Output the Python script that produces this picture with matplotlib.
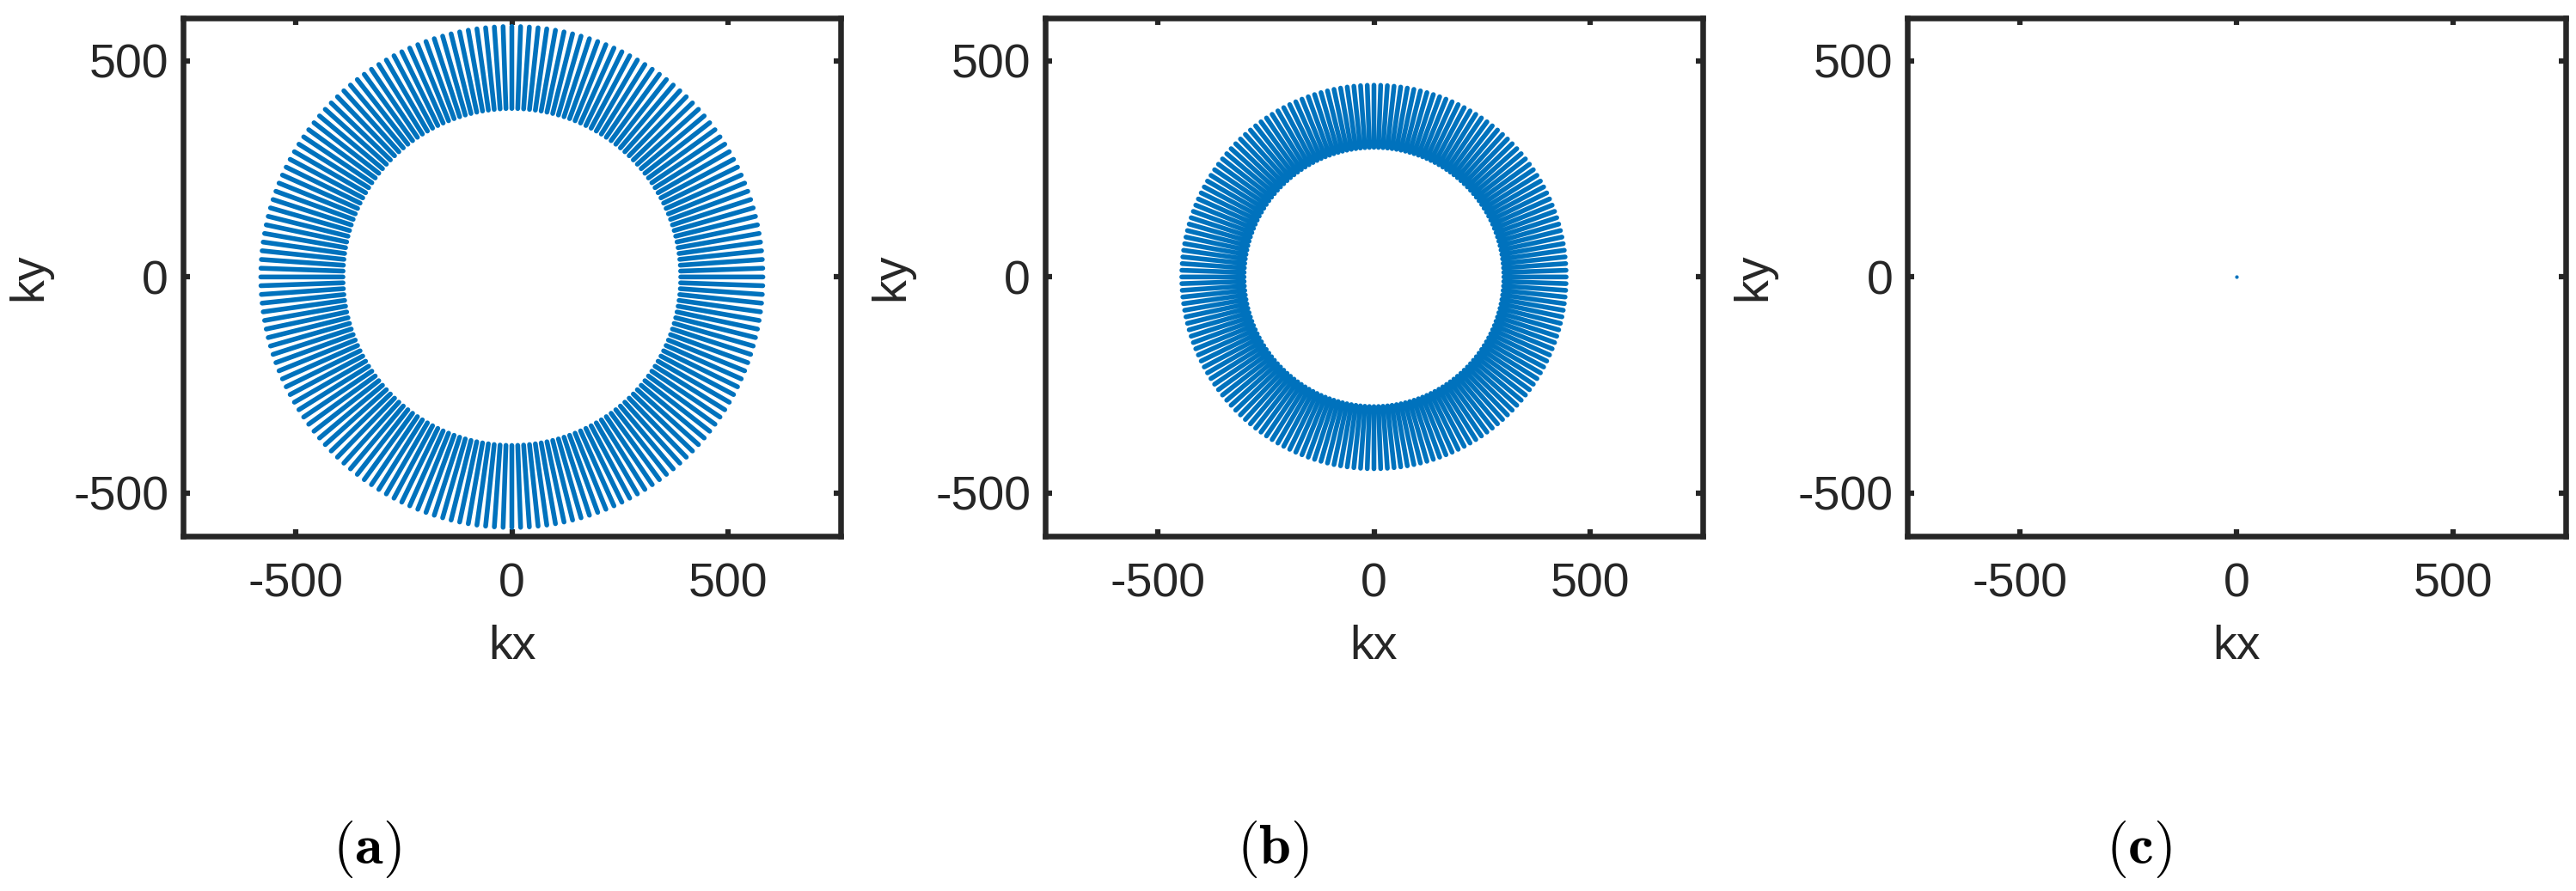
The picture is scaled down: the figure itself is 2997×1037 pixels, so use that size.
import numpy as np
import matplotlib
matplotlib.use("Agg")
import matplotlib.pyplot as plt

# k-space radial trajectories, one panel each
panel_labels = ["a", "b", "c"]
n_spokes = [180, 180, 1]
r_inner = [390, 300, 0]
r_outer = [580, 444, 0]
spoke_start_deg = [0.0, 0.0, 0.0]

x_ticks = [-500, 0, 500]
y_ticks = [-500, 0, 500]
x_lim = (-760, 760)
y_lim = (-600, 600)

caption_x = [427, 1481, 2488]   # pixel centre of the (a)/(b)/(c) captions
axes_left_px = [212.7, 1215.7, 2219.0]

W, H = 2997, 1037
plt.rcParams["font.family"] = ["Liberation Sans", "DejaVu Sans"]
plt.rcParams["mathtext.fontset"] = "cm"

fig = plt.figure(figsize=(W / 100, H / 100), dpi=100)
blue = "#0072BD"
ink = "#262626"

ax_w, ax_h = 765.6, 603.3
ax_bottom = 624.0

for i in range(3):
    ax = fig.add_axes([axes_left_px[i] / W, (H - ax_bottom) / H, ax_w / W, ax_h / H])

    if n_spokes[i] > 1:
        step = 360.0 / n_spokes[i]
        theta = np.deg2rad(spoke_start_deg[i] + step * np.arange(n_spokes[i]))
        xs = np.column_stack([r_inner[i] * np.cos(theta), r_outer[i] * np.cos(theta),
                              np.full(n_spokes[i], np.nan)]).ravel()
        ys = np.column_stack([r_inner[i] * np.sin(theta), r_outer[i] * np.sin(theta),
                              np.full(n_spokes[i], np.nan)]).ravel()
        ax.plot(xs, ys, color=blue, lw=4.0, solid_capstyle="round")
    else:
        ax.plot([r_inner[i]], [r_inner[i]], ".", color=blue, ms=4)

    ax.set_xlim(*x_lim)
    ax.set_ylim(*y_lim)
    ax.set_xticks(x_ticks)
    ax.set_yticks(y_ticks)
    ax.set_xticklabels([str(v) for v in x_ticks])
    ax.set_yticklabels([str(v) for v in y_ticks])
    ax.tick_params(direction="in", length=6, width=4.5, colors=ink,
                   labelsize=40, top=True, right=True)
    ax.tick_params(axis="x", pad=22)
    ax.tick_params(axis="y", pad=12)
    for s in ax.spines.values():
        s.set_linewidth(4.7)
        s.set_color(ink)

    ax.set_xlabel("kx", fontsize=40, color=ink)
    ax.set_ylabel("ky", fontsize=40, color=ink)
    ax.xaxis.set_label_coords(0.5, (ax_bottom - 753) / ax_h)
    ax.xaxis.label.set_va("center")
    ax.yaxis.set_label_coords((34 - axes_left_px[0]) / ax_w, 0.5)
    ax.yaxis.label.set_va("center")

    fig.text(caption_x[i] / W, 1 - 988 / H, r"$(\mathbf{%s})$" % panel_labels[i],
             fontsize=48, ha="center", va="center", color="black")

fig.savefig("out.png", dpi=100, facecolor="white")
